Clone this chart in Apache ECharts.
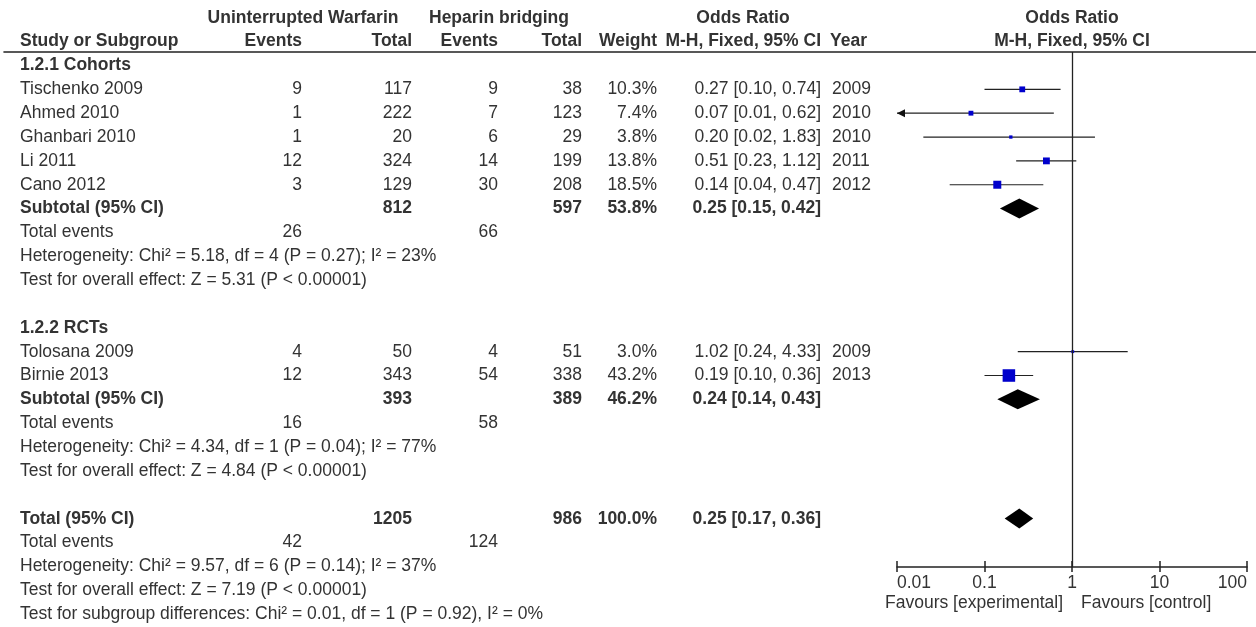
<!DOCTYPE html>
<html><head><meta charset="utf-8">
<script src="https://cdn.jsdelivr.net/npm/echarts@6/dist/echarts.min.js"></script>
<style>html,body{margin:0;padding:0;background:#fff}#c{width:1256px;height:627px}</style>
</head><body><div id="c"></div>
<script>
// ---------------- data ----------------
const groupNames = ['1.2.1 Cohorts', '1.2.2 RCTs'];
const studyNames = ['Tischenko 2009', 'Ahmed 2010', 'Ghanbari 2010', 'Li 2011', 'Cano 2012', 'Tolosana 2009', 'Birnie 2013'];
const studyGroup = [0, 0, 0, 0, 0, 1, 1];
const warfEvents = [9, 1, 1, 12, 3, 4, 12];
const warfTotal = [117, 222, 20, 324, 129, 50, 343];
const hepEvents = [9, 7, 6, 14, 30, 4, 54];
const hepTotal = [38, 123, 29, 199, 208, 51, 338];
const weights = [10.3, 7.4, 3.8, 13.8, 18.5, 3.0, 43.2];
const orEst = [0.27, 0.07, 0.20, 0.51, 0.14, 1.02, 0.19];
const orLow = [0.10, 0.01, 0.02, 0.23, 0.04, 0.24, 0.10];
const orHigh = [0.74, 0.62, 1.83, 1.12, 0.47, 4.33, 0.36];
const years = [2009, 2010, 2010, 2011, 2012, 2009, 2013];

const subWarfTotal = [812, 393];
const subHepTotal = [597, 389];
const subWeight = [53.8, 46.2];
const subEst = [0.25, 0.24];
const subLow = [0.15, 0.14];
const subHigh = [0.42, 0.43];
const subWarfEvents = [26, 16];
const subHepEvents = [66, 58];
const subHet = ['Heterogeneity: Chi\u00b2 = 5.18, df = 4 (P = 0.27); I\u00b2 = 23%',
                'Heterogeneity: Chi\u00b2 = 4.34, df = 1 (P = 0.04); I\u00b2 = 77%'];
const subTest = ['Test for overall effect: Z = 5.31 (P < 0.00001)',
                 'Test for overall effect: Z = 4.84 (P < 0.00001)'];

const totalWarfTotal = [1205];
const totalHepTotal = [986];
const totalWeight = [100.0];
const totalEst = [0.25];
const totalLow = [0.17];
const totalHigh = [0.36];
const totalWarfEvents = [42];
const totalHepEvents = [124];
const totalHet = 'Heterogeneity: Chi\u00b2 = 9.57, df = 6 (P = 0.14); I\u00b2 = 37%';
const totalTest = 'Test for overall effect: Z = 7.19 (P < 0.00001)';
const subgroupTest = 'Test for subgroup differences: Chi\u00b2 = 0.01, df = 1 (P = 0.92), I\u00b2 = 0%';

const axisTicks = [0.01, 0.1, 1, 10, 100];
const favourLabels = ['Favours [experimental]', 'Favours [control]'];

// ---------------- layout ----------------
const FONT = '"Liberation Sans", Arial, sans-serif';
const FS = 17.5;
const TXT = '#333';
const COL = { name: 20, warfEv: 302, warfTot: 412, hepEv: 498, hepTot: 582, weight: 657, or: 821, year: 832,
              warfHead: 303, hepHead: 499, orHead: 743 };

const fmtOR = (e, l, h) => e.toFixed(2) + ' [' + l.toFixed(2) + ', ' + h.toFixed(2) + ']';
const fmtW = w => w.toFixed(1) + '%';

const cells = [];
function cell(x, row, text, align, bold) { cells.push({ x, row, text: String(text), align: align || 'right', bold: !!bold }); }

// headers
cell(COL.warfHead, -2, 'Uninterrupted Warfarin', 'center', true);
cell(COL.hepHead, -2, 'Heparin bridging', 'center', true);
cell(COL.orHead, -2, 'Odds Ratio', 'center', true);
cell(COL.name, -1, 'Study or Subgroup', 'left', true);
cell(COL.warfEv, -1, 'Events', 'right', true);
cell(COL.warfTot, -1, 'Total', 'right', true);
cell(COL.hepEv, -1, 'Events', 'right', true);
cell(COL.hepTot, -1, 'Total', 'right', true);
cell(COL.weight, -1, 'Weight', 'right', true);
cell(COL.or, -1, 'M-H, Fixed, 95% CI', 'right', true);
cell(COL.year - 2, -1, 'Year', 'left', true);

const studyPts = [];
const diamondPts = [];
let row = 0;
groupNames.forEach((g, gi) => {
  cell(COL.name, row, g, 'left', true); row++;
  studyNames.forEach((s, i) => {
    if (studyGroup[i] !== gi) return;
    cell(COL.name, row, s, 'left');
    cell(COL.warfEv, row, warfEvents[i]);
    cell(COL.warfTot, row, warfTotal[i]);
    cell(COL.hepEv, row, hepEvents[i]);
    cell(COL.hepTot, row, hepTotal[i]);
    cell(COL.weight, row, fmtW(weights[i]));
    cell(COL.or, row, fmtOR(orEst[i], orLow[i], orHigh[i]));
    cell(COL.year, row, years[i], 'left');
    studyPts.push([orEst[i], row, orLow[i], orHigh[i], weights[i]]);
    row++;
  });
  cell(COL.name, row, 'Subtotal (95% CI)', 'left', true);
  cell(COL.warfTot, row, subWarfTotal[gi], 'right', true);
  cell(COL.hepTot, row, subHepTotal[gi], 'right', true);
  cell(COL.weight, row, fmtW(subWeight[gi]), 'right', true);
  cell(COL.or, row, fmtOR(subEst[gi], subLow[gi], subHigh[gi]), 'right', true);
  diamondPts.push([subEst[gi], row, subLow[gi], subHigh[gi]]);
  row++;
  cell(COL.name, row, 'Total events', 'left');
  cell(COL.warfEv, row, subWarfEvents[gi]);
  cell(COL.hepEv, row, subHepEvents[gi]);
  row++;
  cell(COL.name, row, subHet[gi], 'left'); row++;
  cell(COL.name, row, subTest[gi], 'left'); row++;
  row++; // blank
});
cell(COL.name, row, 'Total (95% CI)', 'left', true);
cell(COL.warfTot, row, totalWarfTotal[0], 'right', true);
cell(COL.hepTot, row, totalHepTotal[0], 'right', true);
cell(COL.weight, row, fmtW(totalWeight[0]), 'right', true);
cell(COL.or, row, fmtOR(totalEst[0], totalLow[0], totalHigh[0]), 'right', true);
diamondPts.push([totalEst[0], row, totalLow[0], totalHigh[0]]);
row++;
cell(COL.name, row, 'Total events', 'left');
cell(COL.warfEv, row, totalWarfEvents[0]);
cell(COL.hepEv, row, totalHepEvents[0]);
row++;
cell(COL.name, row, totalHet, 'left'); row++;
cell(COL.name, row, totalTest, 'left'); row++;
cell(COL.name, row, subgroupTest, 'left'); row++;
const axisRow = 21.03;

const Y_MIN = -0.566;
const chart = echarts.init(document.getElementById('c'), null, { renderer: 'canvas' });

const xMin = axisTicks[0], xMax = axisTicks[axisTicks.length - 1];

const option = {
  animation: false,
  backgroundColor: '#fff',
  grid: [
    { left: 4, right: 0, top: 52, height: 575 },
    { left: 897, width: 350, top: 52, height: 515 }
  ],
  xAxis: [
    { gridIndex: 0, type: 'value', min: 4, max: 1256, position: 'top',
      axisLine: { show: true, onZero: false, lineStyle: { color: '#222', width: 1.6 } },
      axisTick: { show: false }, axisLabel: { show: false }, splitLine: { show: false } },
    { gridIndex: 1, type: 'log', logBase: 10, min: xMin, max: xMax, position: 'bottom',
      axisLine: { show: true, onZero: false, lineStyle: { color: '#222', width: 1.5 } },
      axisTick: { show: true, length: 5, lineStyle: { color: '#222', width: 1.5 } },
      minorTick: { show: false },
      axisLabel: { show: true, color: TXT, fontSize: FS, fontFamily: FONT, margin: 7,
                   alignMinLabel: 'left', alignMaxLabel: 'right',
                   formatter: v => String(+(+v).toPrecision(6)) },
      splitLine: { show: false } },
    { gridIndex: 1, type: 'log', logBase: 10, min: xMin, max: xMax, position: 'bottom',
      axisLine: { show: false, onZero: false },
      axisTick: { show: true, inside: true, length: 6, lineStyle: { color: '#222', width: 1.5 } },
      axisLabel: { show: false }, splitLine: { show: false } }
  ],
  yAxis: [
    { gridIndex: 0, type: 'value', inverse: true, min: Y_MIN, max: 23.54, show: false },
    { gridIndex: 1, type: 'value', inverse: true, min: Y_MIN, max: axisRow, show: false }
  ],
  series: [
    { // table text
      type: 'custom', xAxisIndex: 0, yAxisIndex: 0, silent: true, clip: false,
      data: cells.map(c => [c.x, c.row]),
      renderItem: function (params, api) {
        const c = cells[params.dataIndex];
        const p = api.coord([c.x, c.row]);
        return { type: 'text', x: p[0], y: p[1],
          style: { text: c.text, font: (c.bold ? 'bold ' : '') + FS + 'px ' + FONT, fill: TXT,
                   textAlign: c.align, textVerticalAlign: 'middle' } };
      }
    },
    { // plot headers + favours labels
      type: 'custom', xAxisIndex: 1, yAxisIndex: 1, silent: true, clip: false,
      data: [[1, -2], [1, -1], [1, 22.55]],
      renderItem: function (params, api) {
        const p = api.coord([api.value(0), api.value(1)]);
        const font = FS + 'px ' + FONT;
        if (params.dataIndex === 0) return { type: 'text', x: p[0], y: p[1], style: { text: 'Odds Ratio', font: 'bold ' + font, fill: TXT, textAlign: 'center', textVerticalAlign: 'middle' } };
        if (params.dataIndex === 1) return { type: 'text', x: p[0], y: p[1], style: { text: 'M-H, Fixed, 95% CI', font: 'bold ' + font, fill: TXT, textAlign: 'center', textVerticalAlign: 'middle' } };
        return { type: 'group', children: [
          { type: 'text', x: p[0] - 9, y: p[1], style: { text: favourLabels[0], font: font, fill: TXT, textAlign: 'right', textVerticalAlign: 'middle' } },
          { type: 'text', x: p[0] + 9, y: p[1], style: { text: favourLabels[1], font: font, fill: TXT, textAlign: 'left', textVerticalAlign: 'middle' } }
        ] };
      }
    },
    { // study CIs and squares
      type: 'custom', xAxisIndex: 1, yAxisIndex: 1, silent: true, clip: false,
      data: studyPts,
      renderItem: function (params, api) {
        const est = api.value(0), r = api.value(1), lo = api.value(2), hi = api.value(3), w = api.value(4);
        const loC = Math.max(lo, xMin), hiC = Math.min(hi, xMax);
        const a = api.coord([loC, r]), b = api.coord([hiC, r]), m = api.coord([est, r]);
        const s = Math.max(2.5, 2 * Math.sqrt(w) - 0.6);
        const children = [
          { type: 'line', shape: { x1: a[0], y1: a[1], x2: b[0], y2: b[1] }, style: { stroke: '#222', lineWidth: 1.2 } },
          { type: 'rect', shape: { x: m[0] - s / 2, y: m[1] - s / 2, width: s, height: s }, style: { fill: '#0000cc' } }
        ];
        if (lo <= xMin) {
          children.push({ type: 'polygon', shape: { points: [[a[0], a[1]], [a[0] + 8, a[1] - 4], [a[0] + 8, a[1] + 4]] }, style: { fill: '#111' } });
        }
        return { type: 'group', children };
      }
    },
    { // diamonds
      type: 'custom', xAxisIndex: 1, yAxisIndex: 1, silent: true, clip: false,
      data: diamondPts,
      renderItem: function (params, api) {
        const est = api.value(0), r = api.value(1), lo = api.value(2), hi = api.value(3);
        const a = api.coord([lo, r]), b = api.coord([hi, r]), m = api.coord([est, r]);
        const h = 10;
        return { type: 'polygon', shape: { points: [[a[0], a[1]], [m[0], m[1] - h], [b[0], b[1]], [m[0], m[1] + h]] }, style: { fill: '#000' } };
      },
      markLine: { silent: true, symbol: 'none', label: { show: false },
                  lineStyle: { color: '#222', width: 1.3, type: 'solid' },
                  data: [{ xAxis: 1 }] }
    }
  ]
};
chart.setOption(option);
</script></body></html>
